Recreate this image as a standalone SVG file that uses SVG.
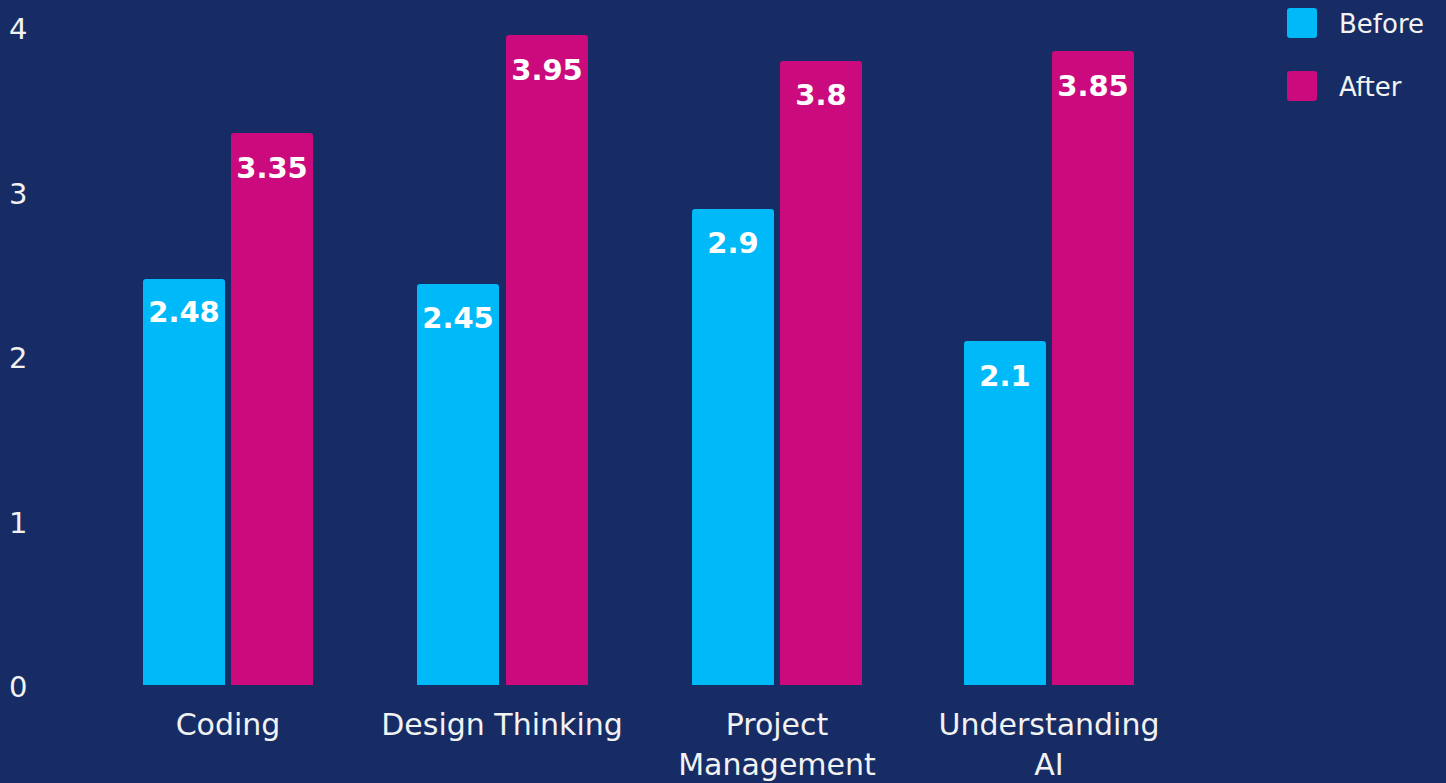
<svg xmlns="http://www.w3.org/2000/svg" width="1446" height="783" viewBox="0 0 1446 783">
<style>
.bg{fill:#172c65}
.b{fill:#00b9f8}
.a{fill:#cb0a7d}
.ax{font-family:"DejaVu Sans ExtraLight","DejaVu Sans",sans-serif;font-size:29px;fill:#f2f2f2}
.cat{font-family:"DejaVu Sans ExtraLight","DejaVu Sans",sans-serif;font-size:30px;fill:#f2f2f2;text-anchor:middle}
.val{font-family:"DejaVu Sans","Verdana",sans-serif;font-weight:bold;font-size:29px;fill:#ffffff;text-anchor:middle}
.leg{font-family:"DejaVu Sans ExtraLight","DejaVu Sans",sans-serif;font-size:26px;fill:#f2f2f2}
</style>
<rect class="bg" x="0" y="0" width="1446" height="783"/>
<g id="axis">
<text class="ax" x="9" y="39">4</text>
<text class="ax" x="9" y="204">3</text>
<text class="ax" x="9" y="368">2</text>
<text class="ax" x="9" y="533">1</text>
<text class="ax" x="9" y="697">0</text>
</g>
<g id="coding">
<path class="b" d="M143,685V282q0,-3 3,-3h76q3,0 3,3V685z"/>
<path class="a" d="M231,685V136q0,-3 3,-3h76q3,0 3,3V685z"/>
<text class="val" x="184" y="322">2.48</text>
<text class="val" x="272" y="178">3.35</text>
<text class="cat" x="228" y="735">Coding</text>
</g>
<g id="design-thinking">
<path class="b" d="M417,685V287q0,-3 3,-3h76q3,0 3,3V685z"/>
<path class="a" d="M506,685V38q0,-3 3,-3h76q3,0 3,3V685z"/>
<text class="val" x="458" y="328">2.45</text>
<text class="val" x="547" y="80">3.95</text>
<text class="cat" x="502" y="735">Design Thinking</text>
</g>
<g id="project-management">
<path class="b" d="M692,685V212q0,-3 3,-3h76q3,0 3,3V685z"/>
<path class="a" d="M780,685V64q0,-3 3,-3h76q3,0 3,3V685z"/>
<text class="val" x="733" y="253">2.9</text>
<text class="val" x="821" y="105">3.8</text>
<text class="cat" x="777" y="735">Project</text>
<text class="cat" x="777" y="775">Management</text>
</g>
<g id="understanding-ai">
<path class="b" d="M964,685V344q0,-3 3,-3h76q3,0 3,3V685z"/>
<path class="a" d="M1052,685V54q0,-3 3,-3h76q3,0 3,3V685z"/>
<text class="val" x="1005" y="386">2.1</text>
<text class="val" x="1093" y="96">3.85</text>
<text class="cat" x="1049" y="735">Understanding</text>
<text class="cat" x="1049" y="775">AI</text>
</g>
<g id="legend">
<rect class="b" x="1287" y="8" width="30" height="30" rx="3"/>
<text class="leg" x="1339" y="33">Before</text>
<rect class="a" x="1287" y="71" width="30" height="30" rx="3"/>
<text class="leg" x="1339" y="96">After</text>
</g>
</svg>
